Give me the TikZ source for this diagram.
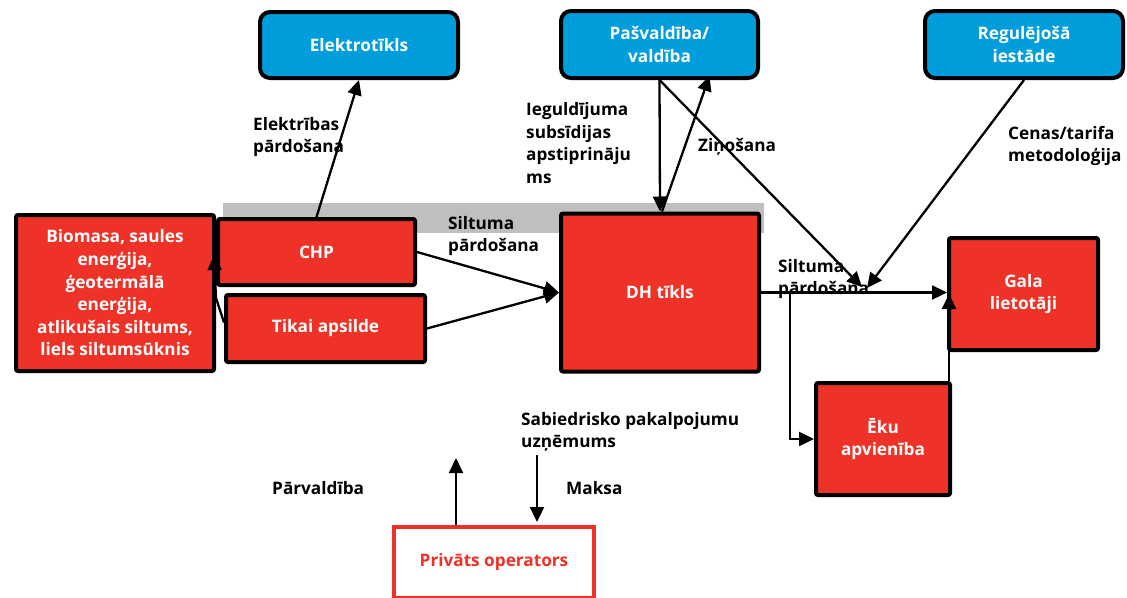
\documentclass[tikz,border=0pt]{standalone}
\usepackage{fontspec}
\setmainfont{Open Sans}
\usetikzlibrary{arrows.meta,calc}
\definecolor{boxred}{RGB}{238,50,39}
\definecolor{boxblue}{RGB}{0,157,220}
\definecolor{band}{RGB}{191,191,191}
\newcommand{\diafont}{\fontsize{17.2}{22.6}\selectfont\bfseries}
\tikzset{
  bluebox/.style={draw=black, line width=4pt, fill=boxblue, rounded corners=10pt,
    text=white, font=\diafont, align=center, inner sep=2pt},
  redbox/.style={draw=black, line width=4pt, fill=boxred, rounded corners=2pt,
    text=white, font=\diafont, align=center, inner sep=2pt},
  opbox/.style={draw=boxred, line width=4pt, fill=white,
    text=boxred, font=\diafont, align=center, inner sep=2pt},
  lbl/.style={font=\diafont, align=left, anchor=west, inner sep=0pt, text=black},
  arr/.style={line width=2.3pt, -{Triangle[length=15pt,width=14pt]}}
}
\begin{document}
\begin{tikzpicture}[x=1pt,y=-1pt]
\useasboundingbox (0,0) rectangle (1127,597);
\fill[white] (0,0) rectangle (1127,597);

% grey strip behind the production row
\fill[band] (223,203) rectangle (764,233);

% actors
\node[bluebox, minimum width=198pt, minimum height=66pt] (elek) at (359,45) {Elektrotīkls};
\node[bluebox, minimum width=197pt, minimum height=67pt] (pasv) at (659.5,44.5) {Pašvaldība/\\valdība};
\node[bluebox, minimum width=198pt, minimum height=67pt] (regu) at (1024,44.5) {Regulējošā\\iestāde};

\node[redbox, minimum width=198pt, minimum height=156pt] (bio) at (115,293)
  {Biomasa, saules\\enerģija,\\ģeotermālā\\enerģija,\\atlikušais siltums,\\liels siltumsūknis};
\node[redbox, minimum width=197pt, minimum height=66pt] (chp) at (316.5,252) {CHP};
\node[redbox, minimum width=199pt, minimum height=67pt] (tikai) at (325.5,328.5) {Tikai apsilde};
\node[redbox, minimum width=198pt, minimum height=158pt] (dh) at (660,292.5) {DH tīkls};
\node[redbox, minimum width=149pt, minimum height=112pt] (gala) at (1023.5,294) {Gala\\lietotāji};
\node[redbox, minimum width=134pt, minimum height=112pt] (eku) at (883,439) {Ēku\\apvienība};
\node[opbox, minimum width=200pt, minimum height=71pt] (priv) at (494,562.5) {Privāts operators};

% flow labels
\node[lbl] (lelek) at (253,137) {Elektrības\\pārdošana};
\node[lbl] (linv) at (526,143) {Ieguldījuma\\subsīdijas\\apstiprināju\\ms};
\node[lbl] (lzin) at (698,147) {Ziņošana};
\node[lbl] (lsilt1) at (448,236) {Siltuma\\pārdošana};
\node[lbl] (lsilt2) at (778,279) {Siltuma\\pārdošana};
\node[lbl] (lcen) at (1008,146) {Cenas/tarifa\\metodoloģija};
\node[lbl] (lsab) at (521,432) {Sabiedrisko pakalpojumu\\uzņēmums};
\node[lbl] (lparv) at (272,488) {Pārvaldība};
\node[lbl] (lmaks) at (566,488) {Maksa};

% meeting points on the heat-sale line
\coordinate (m1) at (862,287);
\coordinate (m2) at (867,288);
\coordinate (br) at (790,292.5);

% connectors
\draw[arr] (chp.north) -- (elek.south);
\draw[arr] ([yshift=6pt]tikai.west) -- (216,298) -- ([xshift=-2pt]bio.east |- 0,255);
\draw[arr] (chp.east) -- (dh.west);
\draw[arr] (tikai.east) -- (dh.west);
\draw[arr] (pasv.south) -- (dh.north);
\draw[arr] ([xshift=2pt]dh.north) -- ([xshift=50pt,yshift=4pt]pasv.south);
\draw[arr] (pasv.south) -- (m1);
\draw[arr] (regu.south) -- (m2);
\draw[arr] (dh.east) -- (dh.east -| gala.west);
\draw[arr] (br) |- (eku.west);
\draw[arr] ([xshift=2pt]gala.west |- eku.north) -- ([xshift=2pt]gala.west);
\draw[arr] ([xshift=-38pt]priv.north) -- ([xshift=-38pt,yshift=67pt]priv.north);
\draw[arr] ([xshift=43pt,yshift=70pt]priv.north) -- ([xshift=43pt,yshift=3pt]priv.north);
\end{tikzpicture}
\end{document}
